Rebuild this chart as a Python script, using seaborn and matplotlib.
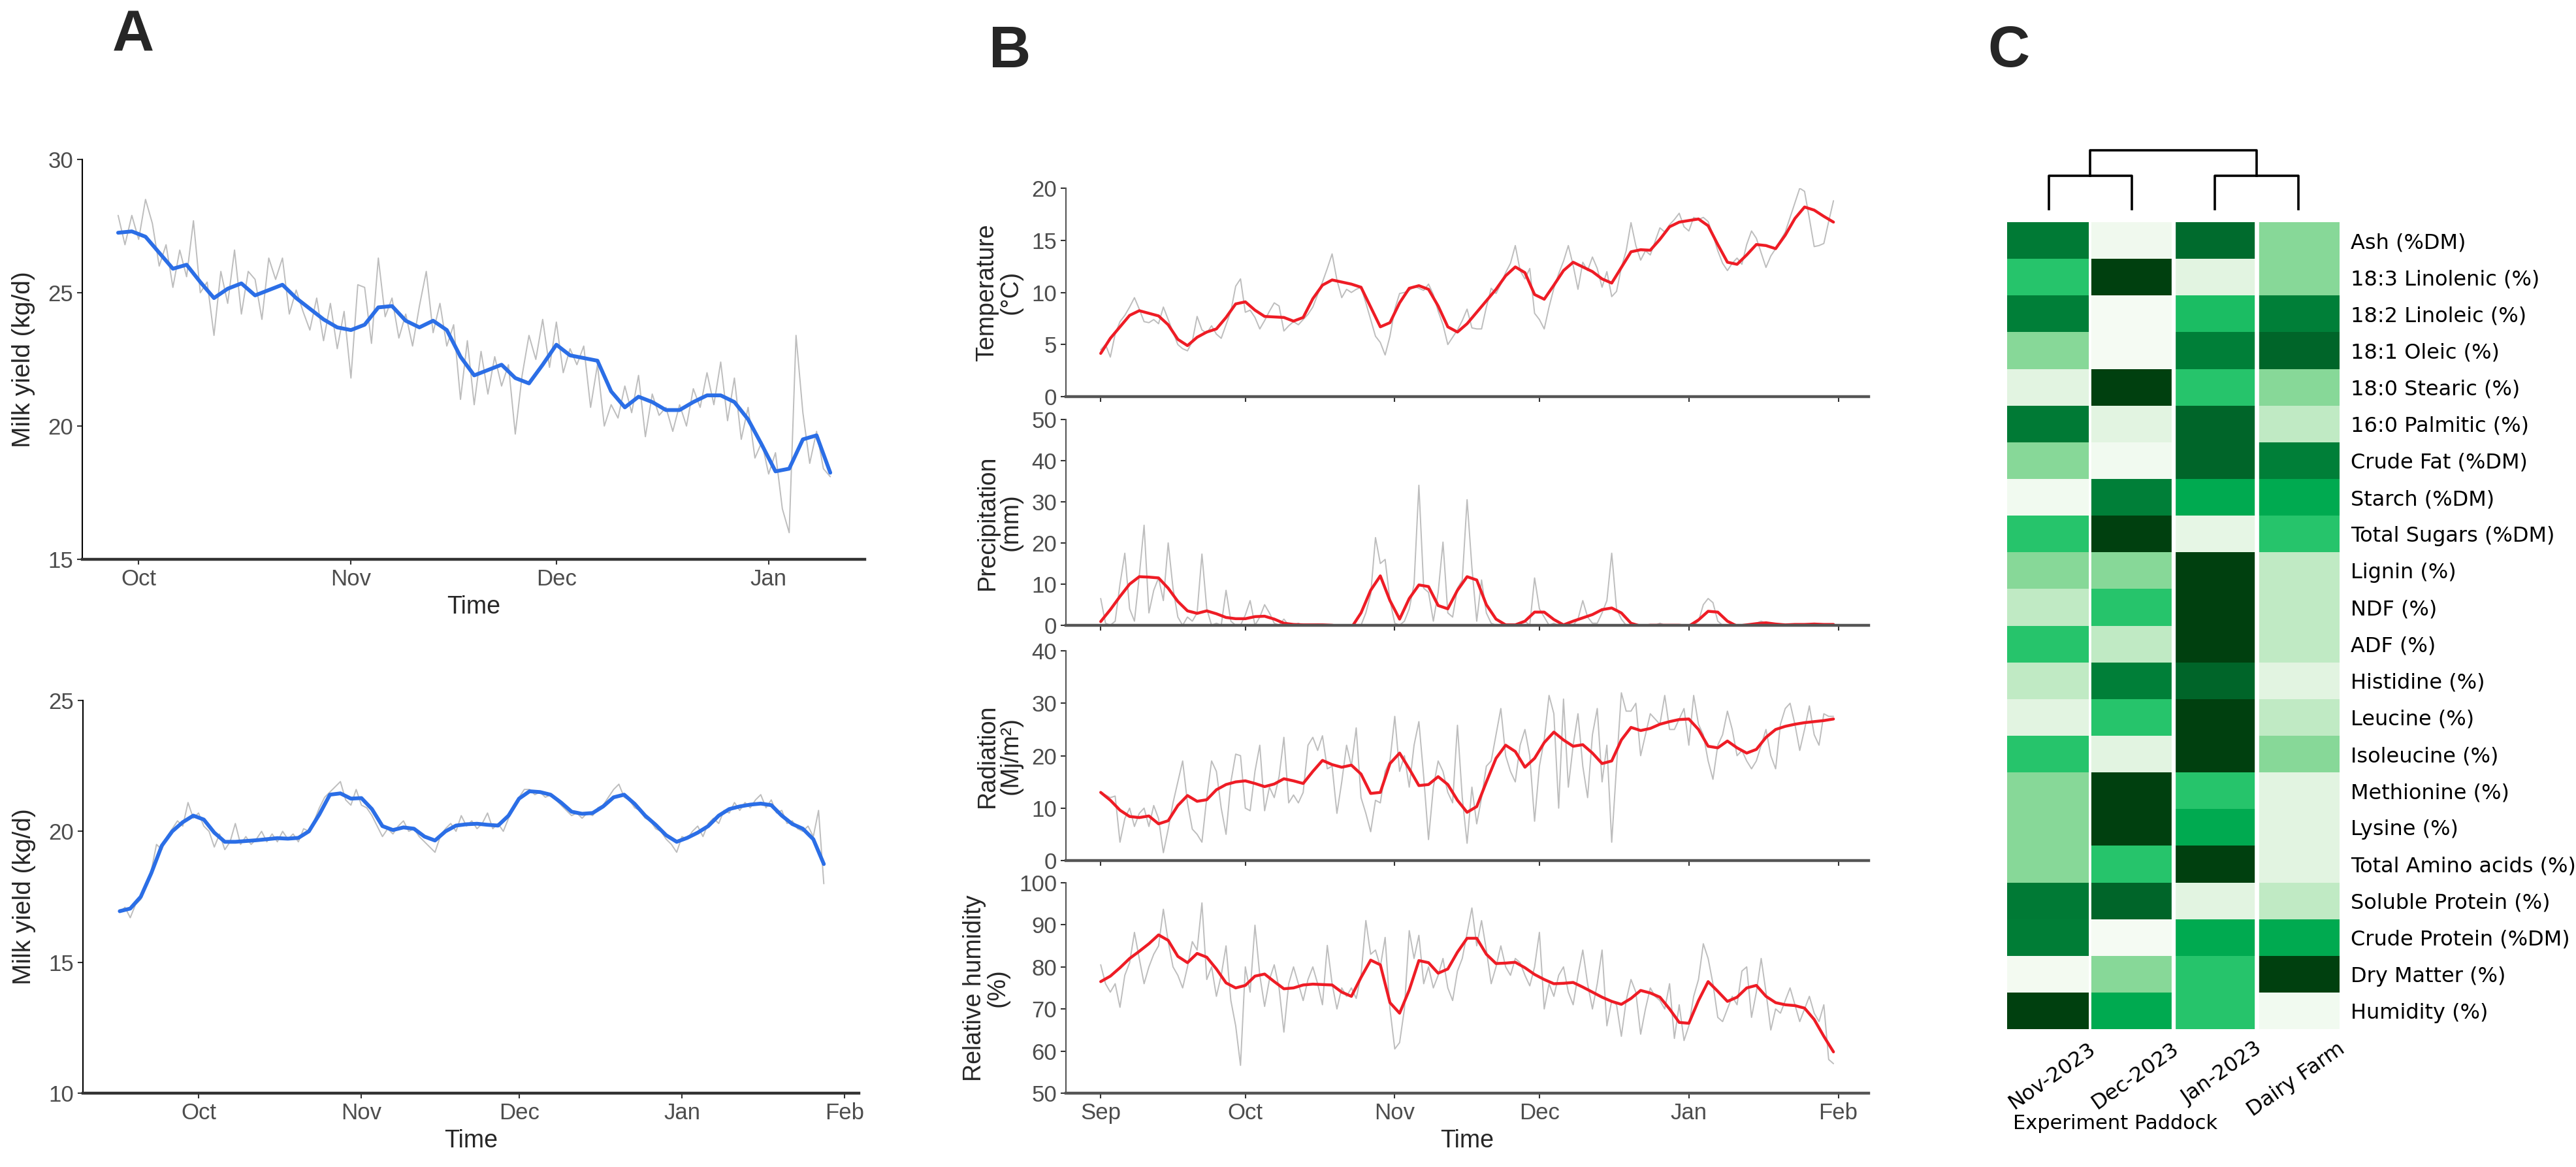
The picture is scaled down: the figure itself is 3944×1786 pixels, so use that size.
import matplotlib
matplotlib.use("Agg")
import matplotlib.pyplot as plt
import matplotlib.dates as mdates
from matplotlib.colors import LinearSegmentedColormap
import seaborn as sns
import pandas as pd

sns.set_theme(style="ticks")
plt.rcParams["font.family"] = ["Liberation Sans Narrow", "Liberation Sans", "DejaVu Sans"]

# ---------------- Panel A : milk yield ----------------
# top plot, daily values from 28 Sep 2023
milk_top_start = "2023-09-28"
milk_top_raw = [27.9, 26.8, 27.9, 27.0, 28.5, 27.6, 26.0, 26.8, 25.2, 26.6, 25.6, 27.7, 25.0, 25.4, 23.4,
                25.8, 24.6, 26.6, 24.2, 25.8, 25.5, 24.0, 26.3, 25.5, 26.3, 24.2, 25.1, 24.3, 23.6, 24.8,
                23.2, 24.6, 22.9, 24.3, 21.8, 25.3, 25.2, 23.1, 26.3, 24.1, 24.8, 23.3, 24.2, 23.0, 24.5,
                25.8, 23.5, 24.6, 23.0, 23.8, 21.0, 23.2, 20.8, 22.8, 21.2, 22.6, 21.5, 22.3, 19.7, 21.9,
                23.4, 22.5, 24.0, 22.2, 23.9, 22.0, 22.9, 22.3, 23.0, 20.7, 22.3, 20.0, 20.8, 20.3, 21.5,
                20.5, 21.9, 19.6, 21.2, 20.4, 20.7, 19.8, 20.8, 20.0, 21.4, 20.7, 22.0, 20.8, 22.4, 20.2,
                21.8, 19.5, 20.7, 18.8, 19.4, 18.2, 19.0, 16.9, 16.0, 23.4, 20.5, 18.6, 19.8, 18.4, 18.1]
# smoothed curve, every 2 days
milk_top_smooth = [27.25, 27.3, 27.1, 26.5, 25.9, 26.05, 25.4, 24.8, 25.15, 25.35, 24.9, 25.1, 25.3, 24.8,
                   24.4, 24.0, 23.7, 23.6, 23.8, 24.45, 24.5, 23.95, 23.7, 23.95, 23.6, 22.6, 21.9, 22.1,
                   22.3, 21.8, 21.6, 22.3, 23.05, 22.65, 22.55, 22.45, 21.3, 20.7, 21.1, 20.9, 20.6, 20.6,
                   20.9, 21.15, 21.15, 20.9, 20.25, 19.3, 18.3, 18.4, 19.5, 19.65, 18.25]

# bottom plot, daily values from 16 Sep 2023
milk_bot_start = "2023-09-16"
milk_bot_raw = [16.9, 17.1, 16.7, 17.2, 17.4, 17.9, 18.5, 19.5, 19.3, 19.8, 20.1, 20.4, 20.2, 21.1, 20.5,
                20.7, 20.2, 20.0, 19.4, 19.9, 19.3, 19.6, 20.3, 19.5, 19.8, 19.5, 19.7, 20.0, 19.6, 19.9,
                19.6, 20.0, 19.7, 19.9, 19.6, 20.1, 20.0, 20.4, 20.9, 21.3, 21.5, 21.7, 21.9, 21.2, 21.0,
                21.6, 21.0, 20.9, 20.6, 20.2, 19.8, 20.1, 19.9, 20.2, 20.4, 20.0, 20.1, 19.8, 19.6, 19.4,
                19.2, 19.8, 20.1, 20.3, 20.0, 20.6, 20.2, 20.4, 20.1, 20.3, 20.7, 20.1, 20.3, 20.0, 20.5,
                21.0, 21.3, 21.6, 21.6, 21.4, 21.5, 21.3, 21.4, 21.2, 21.0, 20.8, 20.6, 20.7, 20.5, 20.7,
                20.6, 20.9, 21.0, 21.3, 21.6, 21.8, 21.3, 21.2, 20.9, 20.8, 20.5, 20.4, 20.1, 20.0, 19.7,
                19.5, 19.2, 19.8, 19.7, 20.0, 20.2, 19.8, 20.3, 20.5, 20.3, 20.8, 20.7, 21.1, 20.8, 21.1,
                20.9, 21.2, 21.4, 20.9, 21.2, 20.7, 20.8, 20.3, 20.4, 20.1, 20.0, 20.2, 19.8, 20.8, 18.0]
milk_bot_smooth = [16.95, 17.05, 17.5, 18.4, 19.45, 20.0, 20.35, 20.6, 20.45, 19.95, 19.6, 19.6, 19.63,
                   19.66, 19.7, 19.74, 19.72, 19.75, 20.0, 20.65, 21.4, 21.45, 21.25, 21.27, 20.85, 20.2,
                   20.05, 20.15, 20.1, 19.8, 19.65, 20.0, 20.22, 20.27, 20.29, 20.25, 20.22, 20.6, 21.25,
                   21.53, 21.5, 21.4, 21.1, 20.75, 20.67, 20.7, 20.95, 21.3, 21.4, 21.05, 20.6, 20.25,
                   19.85, 19.6, 19.75, 19.95, 20.2, 20.6, 20.85, 20.95, 21.02, 21.06, 21.0, 20.6, 20.28,
                   20.1, 19.7, 18.75]

# ---------------- Panel B : weather, daily from 1 Sep 2023 ----------------
weather_start = "2023-09-01"
temp_raw = [4.5, 5.0, 3.8, 6.0, 7.2, 7.8, 8.6, 9.5, 8.4, 7.2, 7.1, 7.4, 7.0, 8.6, 7.4, 6.2, 5.0, 4.6, 4.4,
            5.3, 7.7, 6.4, 6.1, 6.8, 6.0, 5.6, 6.9, 8.2, 10.6, 11.3, 8.1, 8.3, 7.6, 6.5, 7.3, 8.2, 9.0,
            8.7, 6.3, 6.8, 7.2, 6.9, 7.4, 7.9, 8.6, 9.8, 11.0, 12.3, 13.7, 11.2, 9.5, 10.3, 10.0, 10.3,
            10.5, 9.0, 7.4, 5.8, 5.2, 4.0, 5.8, 8.4, 9.9, 10.0, 10.2, 10.6, 10.4, 10.2, 10.8, 9.8, 8.2,
            6.9, 5.0, 5.7, 6.4, 7.3, 8.4, 6.6, 6.5, 6.5, 8.6, 10.4, 9.9, 10.8, 11.9, 12.8, 14.5, 12.1,
            11.3, 12.3, 8.0, 7.4, 6.5, 8.6, 10.4, 11.8, 13.0, 14.5, 12.6, 10.3, 12.9, 12.1, 13.4, 12.3,
            10.5, 12.0, 9.6, 10.1, 12.4, 14.0, 16.7, 14.5, 13.1, 14.0, 13.6, 14.9, 16.2, 15.8, 16.5,
            17.0, 17.6, 16.3, 15.9, 17.2, 17.0, 17.2, 16.8, 15.5, 14.0, 12.8, 12.1, 12.8, 13.3, 12.7,
            14.6, 15.9, 15.2, 13.8, 12.4, 13.5, 14.2, 15.0, 15.8, 17.2, 18.6, 20.0, 19.7, 17.1, 14.4,
            14.5, 14.7, 16.8, 18.8]
temp_smooth = [4.15, 5.6, 6.7, 7.8, 8.25, 8.0, 7.75, 6.9, 5.5, 4.9, 5.7, 6.2, 6.5, 7.6, 8.9, 9.1, 8.3,
               7.7, 7.65, 7.6, 7.25, 7.6, 9.4, 10.7, 11.2, 11.0, 10.8, 10.5, 8.6, 6.7, 7.1, 9.0, 10.4,
               10.65, 10.3, 8.7, 6.7, 6.2, 7.0, 8.1, 9.2, 10.3, 11.6, 12.45, 11.9, 9.8, 9.35, 10.7, 12.1,
               12.9, 12.45, 12.0, 11.3, 10.9, 12.4, 13.9, 14.1, 14.05, 15.1, 16.3, 16.75, 16.9, 17.05,
               16.4, 14.6, 12.9, 12.7, 13.6, 14.6, 14.5, 14.2, 15.5, 17.1, 18.2, 17.9, 17.3, 16.75]

precip_raw = [6.5, 0.5, 0.0, 1.0, 10.0, 17.5, 4.0, 1.0, 12.0, 24.3, 3.0, 8.5, 11.5, 6.0, 20.0, 9.0, 2.0,
              0.0, 2.0, 1.0, 3.0, 17.3, 4.0, 0.0, 0.5, 0.0, 8.5, 1.0, 0.0, 0.0, 2.5, 6.0, 0.0, 2.0, 5.0,
              3.0, 0.5, 0.0, 1.5, 0.0, 0.0, 0.5, 0.0, 0.0, 0.0, 0.3, 0.0, 0.0, 0.0, 0.0, 0.0, 0.0, 0.0,
              0.0, 0.0, 3.0, 7.5, 21.3, 15.0, 16.0, 6.0, 0.5, 0.0, 1.0, 4.0, 10.0, 34.0, 9.0, 8.0, 1.0,
              8.0, 20.2, 3.0, 2.0, 9.0, 11.0, 30.5, 14.0, 1.0, 11.0, 3.0, 0.5, 0.0, 0.0, 0.0, 0.0, 0.0,
              0.5, 1.0, 0.0, 11.5, 4.0, 2.0, 0.0, 0.5, 0.0, 0.0, 0.0, 0.0, 1.5, 6.0, 2.0, 0.5, 0.5, 3.0,
              6.0, 17.5, 4.0, 1.5, 0.0, 0.0, 0.0, 0.0, 0.0, 0.0, 0.0, 0.5, 0.0, 0.0, 0.0, 0.0, 0.0, 0.0,
              0.0, 1.0, 5.0, 6.5, 5.5, 1.0, 0.0, 0.0, 0.0, 0.0, 0.0, 0.0, 0.0, 0.5, 1.0, 0.5, 0.0, 0.0,
              0.0, 0.0, 0.0, 0.3, 0.0, 0.0, 0.0, 0.5, 0.0, 0.0, 0.0, 0.0]
precip_smooth = [0.9, 3.8, 7.0, 10.0, 11.8, 11.7, 11.5, 9.0, 5.8, 3.5, 2.9, 3.5, 2.8, 1.9, 1.6, 1.6, 2.1,
                 2.2, 1.5, 0.5, 0.2, 0.1, 0.1, 0.1, 0.0, -0.3, -0.6, 3.0, 8.5, 12.0, 6.0, 1.5, 6.5, 9.8,
                 9.4, 4.8, 4.0, 8.5, 11.8, 11.0, 5.0, 1.5, 0.1, 0.1, 1.0, 3.2, 3.2, 1.4, 0.1, 1.0, 1.8,
                 2.6, 3.8, 4.2, 3.0, 0.5, -0.2, 0.0, 0.0, 0.0, 0.0, -0.2, 1.3, 3.4, 3.2, 1.0, -0.2, 0.1,
                 0.4, 0.6, 0.3, 0.1, 0.2, 0.2, 0.3, 0.2, 0.2]

rad_raw = [13.0, 12.5, 12.0, 12.3, 3.5, 8.0, 10.0, 6.5, 9.0, 10.0, 6.5, 10.5, 8.0, 1.5, 6.0, 11.0, 15.0,
           19.0, 11.0, 6.0, 5.0, 3.5, 12.0, 19.0, 17.0, 10.0, 5.0, 15.0, 20.3, 20.0, 10.0, 9.5, 17.0,
           22.0, 9.5, 14.0, 12.0, 16.0, 23.5, 11.0, 12.5, 11.0, 13.0, 22.0, 23.5, 21.0, 23.8, 17.5,
           18.0, 9.0, 15.0, 22.0, 18.0, 25.3, 12.0, 9.0, 5.5, 11.5, 11.0, 17.0, 19.0, 27.5, 17.0, 20.0,
           14.0, 22.0, 26.5, 16.0, 4.0, 14.0, 19.0, 17.0, 13.0, 11.0, 25.8, 12.0, 3.3, 14.0, 7.0, 12.0,
           18.0, 19.0, 24.0, 29.0, 20.0, 17.0, 15.0, 22.0, 25.0, 20.0, 7.5, 18.0, 23.0, 31.5, 28.0,
           10.0, 30.8, 14.0, 22.0, 28.0, 18.0, 12.0, 24.0, 29.0, 15.0, 22.0, 3.5, 18.0, 32.0, 28.5,
           28.5, 30.0, 20.0, 24.0, 28.0, 27.0, 26.0, 31.5, 25.0, 25.0, 27.0, 29.0, 22.0, 31.5, 26.0,
           24.0, 19.0, 15.5, 22.0, 24.0, 28.5, 25.0, 20.0, 21.0, 19.0, 17.5, 19.0, 22.0, 25.0, 20.0,
           17.5, 26.0, 29.0, 30.0, 26.0, 21.0, 25.0, 29.5, 24.0, 22.0, 28.0, 27.5, 27.5]
rad_smooth = [13.0, 11.5, 9.6, 8.4, 8.2, 8.5, 7.0, 7.6, 10.5, 12.4, 11.3, 11.6, 13.5, 14.5, 15.0, 15.2,
              14.7, 14.1, 14.6, 15.6, 15.2, 14.7, 17.0, 19.1, 18.3, 17.8, 18.2, 16.5, 12.8, 13.0, 18.5,
              20.5, 17.5, 14.3, 14.5, 16.0, 14.5, 11.5, 9.2, 10.3, 15.0, 19.5, 22.0, 20.8, 17.8, 19.5,
              22.5, 24.5, 23.0, 21.8, 22.1, 20.5, 18.5, 19.0, 23.0, 25.4, 24.8, 25.2, 26.0, 26.5, 26.9,
              27.0, 25.0, 21.8, 21.5, 22.8, 21.5, 20.5, 21.2, 23.5, 25.0, 25.6, 26.0, 26.3, 26.5, 26.7,
              27.0]

rh_raw = [80.5, 76.0, 74.0, 76.0, 70.4, 78.0, 81.0, 88.2, 82.0, 76.0, 80.0, 83.0, 85.0, 93.7, 86.0,
          80.0, 78.0, 75.0, 80.0, 86.0, 84.0, 95.2, 77.0, 80.0, 73.0, 78.0, 85.0, 72.0, 66.0, 56.6,
          80.0, 74.0, 89.9, 78.0, 70.6, 77.0, 80.5, 75.0, 64.5, 76.0, 80.0, 76.0, 72.0, 77.0, 80.0,
          76.0, 71.0, 85.1, 76.0, 70.0, 75.0, 73.0, 75.0, 72.5, 78.0, 91.0, 83.0, 84.0, 80.0, 87.0,
          70.0, 60.5, 62.0, 70.0, 88.6, 82.0, 87.5, 76.0, 80.0, 75.0, 78.0, 82.0, 75.0, 72.0, 79.0,
          82.0, 88.0, 94.0, 85.0, 91.0, 84.0, 76.0, 80.0, 85.0, 80.0, 78.0, 82.0, 81.0, 78.0, 75.5,
          80.0, 88.2, 70.0, 76.0, 73.0, 78.0, 80.0, 74.0, 71.0, 78.0, 84.0, 76.0, 70.0, 76.0, 84.0,
          66.0, 72.0, 71.0, 63.5, 72.0, 77.0, 74.0, 64.0, 70.0, 75.0, 73.0, 72.0, 70.0, 76.0, 63.0,
          71.0, 62.5, 66.0, 73.0, 77.0, 85.5, 82.0, 76.0, 68.0, 67.0, 70.0, 73.0, 71.0, 79.0, 80.0,
          68.0, 74.0, 82.0, 74.0, 65.0, 70.0, 69.0, 72.0, 75.0, 71.0, 67.0, 70.0, 73.0, 69.0, 67.0,
          71.0, 58.0, 57.0]
rh_smooth = [76.5, 77.8, 79.8, 82.0, 83.7, 85.5, 87.6, 86.3, 82.5, 81.0, 83.2, 82.3, 79.5, 76.2, 75.0,
             75.6, 77.8, 78.3, 76.5, 74.8, 75.0, 75.7, 75.9, 75.8, 75.7, 74.0, 73.0, 77.5, 81.6, 80.5,
             71.5, 69.0, 74.5, 81.5, 81.0, 78.5, 79.5, 83.5, 86.8, 86.8, 83.0, 80.8, 80.9, 81.1, 79.8,
             78.2, 77.0, 76.0, 76.1, 76.3, 75.2, 74.0, 72.8, 71.8, 71.1, 72.5, 74.4, 73.8, 72.8, 70.0,
             66.8, 66.6, 72.0, 76.5, 74.2, 71.8, 72.8, 75.0, 75.6, 73.0, 71.5, 71.0, 70.8, 70.2, 67.5,
             63.5, 59.8]

# ---------------- Panel C : forage composition heatmap ----------------
nutrients = ["Ash (%DM)", "18:3 Linolenic (%)", "18:2 Linoleic (%)", "18:1 Oleic (%)", "18:0 Stearic (%)",
             "16:0 Palmitic (%)", "Crude Fat (%DM)", "Starch (%DM)", "Total Sugars (%DM)", "Lignin (%)",
             "NDF (%)", "ADF (%)", "Histidine (%)", "Leucine (%)", "Isoleucine (%)", "Methionine (%)",
             "Lysine (%)", "Total Amino acids (%)", "Soluble Protein (%)", "Crude Protein (%DM)",
             "Dry Matter (%)", "Humidity (%)"]
paddocks = ["Nov-2023", "Dec-2023", "Jan-2023", "Dairy Farm"]
nov_2023 = [6.2, 4.0, 6.0, 3.0, 1.0, 6.2, 3.0, 0.2, 4.0, 3.0, 2.0, 4.0, 2.0, 1.0, 4.0, 3.0, 3.0, 3.0, 6.2, 6.1, 0.1, 8.0]
dec_2023 = [0.3, 8.0, 0.0, 0.0, 8.0, 1.0, 0.2, 6.0, 8.0, 3.0, 4.0, 2.0, 6.0, 4.0, 1.0, 8.0, 8.0, 4.0, 7.0, 0.0, 3.0, 5.0]
jan_2023 = [6.8, 1.0, 4.3, 6.0, 4.0, 7.0, 7.0, 5.0, 0.8, 8.0, 8.0, 8.0, 7.0, 8.0, 8.0, 4.0, 5.0, 8.0, 1.0, 5.0, 4.0, 4.0]
dairy_farm = [3.0, 3.0, 6.0, 7.0, 3.0, 2.0, 6.0, 5.0, 4.0, 2.0, 2.0, 2.0, 1.0, 2.0, 3.0, 1.0, 1.0, 1.0, 2.0, 5.0, 8.0, 0.2]
# dendrogram merge heights: (Nov, Dec), (Jan, Dairy), root
dendro_heights = [0.567, 0.567, 1.0]

GREY = "#bdbdbd"
BLUE = "#2b6ee6"
RED = "#ee1c25"
TICK_COL = "#4d4d4d"
NARROW = ["Liberation Sans Narrow", "Liberation Sans", "DejaVu Sans"]
REGULAR = ["Liberation Sans", "DejaVu Sans"]


def series(start, values, freq="D"):
    return pd.DataFrame({"date": pd.date_range(start, periods=len(values), freq=freq), "value": values})


def style_ts(ax, ylim, yticks, xlim, xlabels=True, bottom_col="#333333", left_col="black"):
    ax.set_xlim(pd.Timestamp(xlim[0]), pd.Timestamp(xlim[1]))
    ax.set_ylim(*ylim)
    ax.set_yticks(yticks)
    ax.xaxis.set_major_locator(mdates.MonthLocator())
    ax.xaxis.set_major_formatter(mdates.DateFormatter("%b"))
    sns.despine(ax=ax)
    ax.spines["left"].set_color(left_col)
    ax.spines["left"].set_linewidth(1.5)
    ax.spines["bottom"].set_color(bottom_col)
    ax.spines["bottom"].set_linewidth(3.2)
    ax.tick_params(axis="both", length=6, width=1.5, color="#333333", labelsize=25,
                   labelcolor=TICK_COL, pad=4)
    for lab in ax.get_xticklabels() + ax.get_yticklabels():
        lab.set_family(NARROW)
    if not xlabels:
        ax.set_xticklabels([])
    ax.set_xlabel("")
    ax.set_ylabel("")


fig = plt.figure(figsize=(39.44, 17.86), dpi=100)

# ---- A top
ax_a1 = fig.add_axes([0.0319, 0.5207, 0.3037, 0.3427])
sns.lineplot(data=series(milk_top_start, milk_top_raw), x="date", y="value", color=GREY, lw=1.4, ax=ax_a1)
sns.lineplot(data=series(milk_top_start, milk_top_smooth, "2D"), x="date", y="value", color=BLUE, lw=4.2, ax=ax_a1)
style_ts(ax_a1, (15, 30), [15, 20, 25, 30], ("2023-09-22 18:00", "2024-01-15"))
ax_a1.set_ylabel("Milk yield (kg/d)", fontsize=28, family=REGULAR, labelpad=14)
ax_a1.set_xlabel("Time", fontsize=27, family=NARROW, labelpad=6)

# ---- A bottom
ax_a2 = fig.add_axes([0.0322, 0.0633, 0.3012, 0.3365])
sns.lineplot(data=series(milk_bot_start, milk_bot_raw), x="date", y="value", color=GREY, lw=1.4, ax=ax_a2)
sns.lineplot(data=series(milk_bot_start, milk_bot_smooth, "2D"), x="date", y="value", color=BLUE, lw=4.2, ax=ax_a2)
style_ts(ax_a2, (10, 25), [10, 15, 20, 25], ("2023-09-09", "2024-02-03 16:00"))
ax_a2.set_ylabel("Milk yield (kg/d)", fontsize=28, family=REGULAR, labelpad=14)
ax_a2.set_xlabel("Time", fontsize=27, family=NARROW, labelpad=6)

# ---- B weather panels
b_xlim = ("2023-08-24 19:00", "2024-02-07 07:00")
b_specs = [
    (0.6601, 0.1786, temp_raw, temp_smooth, (0, 20), [0, 5, 10, 15, 20], "Temperature\n(°C)"),
    (0.4642, 0.1764, precip_raw, precip_smooth, (0, 50), [0, 10, 20, 30, 40, 50], "Precipitation\n(mm)"),
    (0.2626, 0.1797, rad_raw, rad_smooth, (0, 40), [0, 10, 20, 30, 40], "Radiation\n(Mj/m²)"),
    (0.0633, 0.1803, rh_raw, rh_smooth, (50, 100), [50, 60, 70, 80, 90, 100], "Relative humidity\n(%)"),
]
for i, (bot, h, raw, smooth, ylim, yticks, label) in enumerate(b_specs):
    ax = fig.add_axes([0.4138, bot, 0.3116, h])
    sns.lineplot(data=series(weather_start, raw), x="date", y="value", color=GREY, lw=1.4, ax=ax)
    sns.lineplot(data=series(weather_start, smooth, "2D"), x="date", y="value", color=RED, lw=3.2, ax=ax)
    last = i == len(b_specs) - 1
    style_ts(ax, ylim, yticks, b_xlim, xlabels=last, bottom_col="#555555", left_col="#555555")
    ax.set_ylabel(label, fontsize=27, family=REGULAR, linespacing=1.0, labelpad=10)
    if last:
        ax.set_xlabel("Time", fontsize=27, family=NARROW, labelpad=6)

# ---- C heatmap with dendrogram
comp = pd.DataFrame({"Nov-2023": nov_2023, "Dec-2023": dec_2023, "Jan-2023": jan_2023,
                     "Dairy Farm": dairy_farm}, index=nutrients)
greens = LinearSegmentedColormap.from_list(
    "paddock_greens", ["#f5fbf3", "#e2f4e1", "#c0eac4", "#88d899", "#27c46b",
                       "#00ab50", "#008038", "#00662a", "#00400f"])
ax_h = fig.add_axes([0.7792, 0.1181, 0.1291, 0.6915])
sns.heatmap(comp, ax=ax_h, cmap=greens, vmin=0, vmax=8, cbar=False, linewidths=0,
            xticklabels=False, yticklabels=True)
for xv, lw in zip([1, 2, 3], [2.8, 4.5, 4.8]):
    ax_h.axvline(xv, color="white", lw=lw)
ax_h.yaxis.tick_right()
ax_h.tick_params(axis="y", left=False, right=False, labelleft=False, labelright=True,
                 labelsize=23, pad=6, labelcolor="black")
ax_h.tick_params(axis="x", bottom=False)
for lab in ax_h.get_yticklabels():
    lab.set_rotation(0)
    lab.set_family(["DejaVu Sans"])
ax_h.set_xlabel("")
ax_h.set_ylabel("")
for j, name in enumerate(paddocks):
    ax_h.text(j + 0.97, len(nutrients) + 0.25, name, rotation=35, ha="right", va="top",
              rotation_mode="anchor", fontsize=23, family=["DejaVu Sans"], color="black")
fig.text(0.7814, 0.0375, "Experiment Paddock", ha="left", va="center", fontsize=22,
         family=["DejaVu Sans"], color="black")

ax_d = fig.add_axes([0.7792, 0.8102, 0.1291, 0.061])
ax_d.set_xlim(0, 4)
ax_d.set_ylim(-0.211, 1.0)
ax_d.axis("off")
h_left, h_right, h_root = dendro_heights
kw = dict(color="black", lw=2.6, clip_on=False, solid_capstyle="projecting")
ax_d.plot([0.5, 0.5, 1.5, 1.5], [0, h_left, h_left, 0], **kw)
ax_d.plot([2.5, 2.5, 3.5, 3.5], [0, h_right, h_right, 0], **kw)
ax_d.plot([1.0, 1.0, 3.0, 3.0], [h_left, h_root, h_root, h_right], **kw)

# ---- panel letters
for x, y, letter in [(0.0517, 0.969, "A"), (0.392, 0.955, "B"), (0.7797, 0.956, "C")]:
    fig.text(x, y, letter, ha="center", va="center", fontsize=64, fontweight="bold", family=NARROW)

fig.savefig("out.png", dpi=100)
